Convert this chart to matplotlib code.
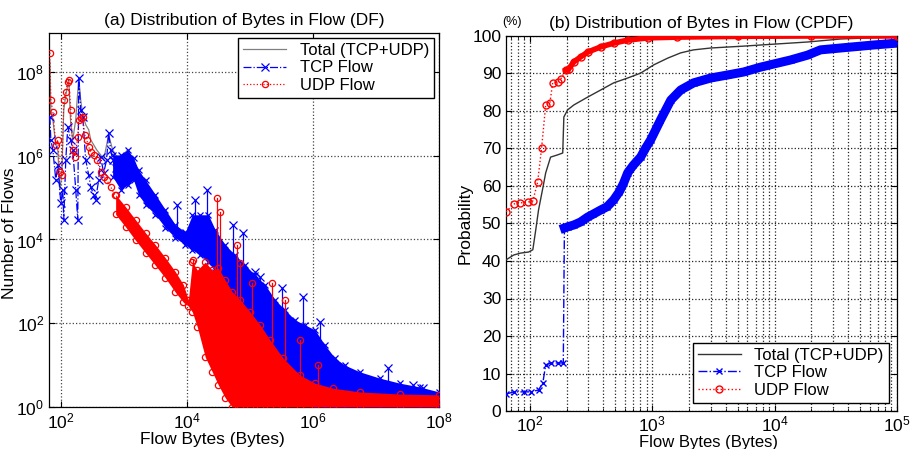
import numpy as np
import matplotlib
matplotlib.use("Agg")
import matplotlib.pyplot as plt
from matplotlib.ticker import LogLocator, NullLocator, MultipleLocator

plt.rcParams['font.family'] = ['Liberation Sans', 'DejaVu Sans']
plt.rcParams['font.size'] = 12

# ---- (a) DF panel, values read as log10 exponents (bytes, number of flows) ----
total_df_x = [1.826, 1.842, 1.874, 1.921, 1.953, 1.984, 2.016, 2.047, 2.079, 2.111,
              2.126, 2.158, 2.190, 2.237, 2.285, 2.316, 2.348, 2.395, 2.443, 2.474,
              2.522, 2.569, 2.632, 2.680, 2.759, 2.822, 2.917, 3.059, 3.186, 3.344]
total_df_y = [8.24, 7.10, 6.86, 6.26, 6.14, 5.19, 5.54, 7.10, 7.44, 7.69,
              7.81, 6.74, 6.38, 6.86, 7.86, 7.33, 6.98, 6.74, 6.62, 6.38,
              6.26, 6.14, 6.02, 5.90, 6.50, 6.14, 5.90, 6.14, 5.78, 5.19]

tcp_df_x = [1.826, 1.842, 1.874, 1.921, 1.953, 2.000, 2.032, 2.047, 2.079, 2.111,
            2.158, 2.190, 2.237, 2.269, 2.285, 2.316, 2.348, 2.395, 2.443, 2.474,
            2.522, 2.553, 2.601, 2.632, 2.680, 2.727, 2.759, 2.791, 2.822, 2.870]
tcp_df_y = [6.93, 6.38, 6.14, 5.42, 5.78, 4.87, 5.19, 4.47, 5.90, 6.69,
            6.38, 6.14, 5.19, 4.47, 7.86, 7.10, 6.93, 5.90, 5.54, 5.26,
            5.07, 4.95, 5.42, 5.97, 5.59, 5.90, 6.55, 6.14, 5.90, 5.71]

tcp_band_x = [2.822, 2.949, 3.059, 3.154, 3.233, 3.344, 3.502, 3.660, 3.818, 3.976,
              4.087, 4.213, 4.340, 4.451, 4.609, 4.767, 4.925, 5.083, 5.241, 5.399,
              5.557, 5.715, 5.874, 6.032, 6.190, 6.348, 6.506, 6.743, 7.059, 7.375,
              7.692, 8.0]
tcp_band_hi = [6.02, 6.02, 6.14, 5.95, 5.66, 5.42, 5.07, 4.71, 4.35, 4.18,
               4.59, 4.59, 4.59, 4.23, 3.87, 3.63, 3.39, 3.15, 2.92, 2.56,
               2.32, 2.08, 1.96, 1.84, 1.48, 1.17, 1.00, 0.84, 0.69, 0.57,
               0.48, 0.36]
tcp_band_lo = [5.50, 5.19, 5.30, 5.42, 5.07, 4.83, 4.59, 4.28, 4.04, 3.87,
               3.75, 3.63, 3.46, 3.23, 2.92, 2.56, 2.20, 1.84, 1.48, 1.12,
               0.84, 0.53, 0.29, 0, 0, 0, 0, 0, 0, 0,
               0, 0]
tcp_spike_x = [3.850, 4.134, 4.324, 4.609, 4.735, 4.893, 5.083, 5.162, 5.510, 5.842,
               6.111, 7.186, 7.581, 7.739]
tcp_spike_base = [4.10, 3.95, 3.60, 3.00, 2.90, 2.40, 2.00, 1.80, 1.00, 0.40,
                  0.00, 0.00, 0.00, 0.00]
tcp_spike_y = [4.83, 4.95, 5.19, 3.51, 4.35, 4.16, 3.23, 3.11, 2.84, 2.63,
               2.03, 0.93, 0.53, 0.45]

udp_df_x = [1.826, 1.842, 1.874, 1.921, 1.953, 1.984, 2.016, 2.047, 2.079, 2.111,
            2.126, 2.158, 2.190, 2.221, 2.269, 2.285, 2.316, 2.348, 2.379, 2.411,
            2.443, 2.474, 2.522, 2.569, 2.632, 2.680, 2.727, 2.791, 2.854]
udp_df_y = [8.46, 7.33, 7.05, 6.26, 6.38, 5.62, 5.54, 7.33, 7.53, 7.77,
            7.81, 7.10, 6.14, 5.97, 6.45, 6.86, 6.91, 6.93, 6.50, 6.38,
            6.21, 6.09, 6.02, 5.90, 5.62, 5.50, 5.42, 5.26, 5.07]

udp_band_x = [2.870, 3.028, 3.186, 3.344, 3.502, 3.660, 3.818, 3.945, 4.024, 4.087,
              4.166, 4.292, 4.403, 4.498, 4.609, 4.719, 4.846, 5.004, 5.162, 5.320,
              5.526, 5.794, 6.032, 6.316, 6.743, 7.375, 8.0]
udp_band_hi = [5.07, 4.78, 4.47, 4.16, 3.87, 3.56, 3.23, 2.92, 2.56, 3.46,
               3.27, 3.46, 3.27, 3.32, 3.03, 2.75, 2.56, 2.27, 1.96, 1.60,
               1.17, 0.76, 0.57, 0.45, 0.36, 0.31, 0.29]
udp_band_lo = [4.60, 4.30, 3.98, 3.68, 3.38, 3.08, 2.74, 2.50, 2.41, 2.27,
               1.91, 1.19, 0.84, 0.53, 0.22, 0, 0, 0, 0, 0,
               0, 0, 0, 0, 0, 0, 0]
udp_spike_x = [4.103, 4.482, 4.530, 4.798, 4.846, 5.036, 5.352, 5.557, 5.794, 6.079]
udp_spike_base = [2.30, 2.50, 2.00, 0.00, 0.00, 0.00, 0.00, 0.00, 0.00, 0.00]
udp_spike_y = [3.51, 4.99, 4.66, 3.87, 3.44, 2.96, 2.96, 2.56, 1.60, 1.00]

df_xticks = [1e2, 1e4, 1e6, 1e8]
df_yticks = [1e0, 1e2, 1e4, 1e6, 1e8]

# ---- (b) CPDF panel (bytes, %) ----
total_cdf_x = [64, 74, 84, 98, 106, 112, 118, 128, 135, 148, 169, 186, 190, 204, 229,
               297, 380, 485, 631, 805, 1030, 1340, 1710, 2180, 3010, 5590, 7690,
               18600, 34600, 100000]
total_cdf_y = [40.3, 41.6, 42.1, 42.4, 43.0, 48.3, 53.6, 59.5, 63.5, 67.7, 68.3, 68.8,
               78.4, 80.3, 81.6, 83.7, 85.6, 87.5, 88.8, 90.1, 92.3, 94.1, 95.5, 96.3,
               96.8, 97.3, 97.6, 98.4, 99.2, 99.8]

tcp_cdf_x = [64, 74, 89, 102, 118, 128, 135, 148, 169, 188, 192, 204, 229, 260, 297,
             330, 380, 430, 485, 540, 585, 631, 700, 805, 880, 973, 1170, 1420, 1710,
             2180, 3010, 4130, 5590, 7690, 13500, 18600, 23700, 34600, 64300, 100000]
tcp_cdf_y = [4.5, 5.1, 5.1, 5.1, 5.6, 7.5, 12.3, 12.8, 12.8, 12.8, 48.8, 49.1, 49.6,
             50.4, 51.7, 52.5, 53.6, 54.5, 56.3, 58.5, 60.8, 63.5, 65.5, 67.7, 70.0,
             72.3, 77.6, 82.9, 85.6, 87.5, 88.8, 89.6, 90.4, 91.7, 93.6, 94.9, 96.3,
             96.8, 97.6, 98.1]

udp_cdf_x = [64, 74, 84, 96, 106, 116, 125, 135, 146, 154, 169, 179, 197, 208, 229,
             260, 297, 380, 485, 631, 920, 1610, 5000, 20000, 100000]
udp_cdf_y = [53.1, 55.2, 55.5, 55.7, 56.0, 61.0, 70.1, 81.6, 82.1, 87.5, 87.7, 88.5,
             90.9, 91.2, 93.1, 94.4, 95.7, 97.1, 98.1, 98.9, 99.5, 99.7, 99.9, 100.0,
             100.0]

cdf_xticks = [1e2, 1e3, 1e4, 1e5]

BLUE = '#0000ff'
RED = '#ff0000'


def p10(a):
    return np.power(10.0, np.asarray(a, dtype=float))


fig = plt.figure(figsize=(9.11, 4.49), dpi=100)
ax1 = fig.add_axes([49 / 911, 1 - 407 / 449, 390 / 911, 374 / 449])
ax2 = fig.add_axes([506 / 911, 1 - 411 / 449, 391 / 911, 375 / 449])

# ---------------- panel (a) ----------------
ax1.plot(p10(total_df_x), p10(total_df_y), color='#808080', lw=0.9,
         label='Total (TCP+UDP)', zorder=2)

# TCP
ax1.fill_between(p10(tcp_band_x), p10(tcp_band_lo), p10(tcp_band_hi),
                 color=BLUE, lw=0, zorder=3)
for yy in (tcp_band_hi, tcp_band_lo):
    ax1.plot(p10(tcp_band_x), p10(yy), ls='none', marker='x', ms=5,
             mew=0.9, color=BLUE, zorder=3)
for sx, sb, sy in zip(tcp_spike_x, tcp_spike_base, tcp_spike_y):
    ax1.plot(p10([sx, sx]), p10([sb, sy]), color=BLUE, lw=0.9, zorder=3)
ax1.plot(p10(tcp_spike_x), p10(tcp_spike_y), ls='none', marker='x', ms=6,
         mew=0.9, color=BLUE, zorder=3)
ax1.plot(p10(tcp_df_x), p10(tcp_df_y), color=BLUE, ls='-.', lw=0.9,
         marker='x', ms=6, mew=0.9, label='TCP Flow', zorder=3)

# UDP
ax1.fill_between(p10(udp_band_x), p10(udp_band_lo), p10(udp_band_hi),
                 color=RED, lw=0, zorder=4)
for yy in (udp_band_hi, udp_band_lo):
    ax1.plot(p10(udp_band_x), p10(yy), ls='none', marker='o', ms=4.5,
             mfc='none', mew=0.9, color=RED, zorder=4)
for sx, sb, sy in zip(udp_spike_x, udp_spike_base, udp_spike_y):
    ax1.plot(p10([sx, sx]), p10([sb, sy]), color=RED, lw=0.9, zorder=4)
ax1.plot(p10(udp_spike_x), p10(udp_spike_y), ls='none', marker='o', ms=4.5,
         mfc='none', mew=0.9, color=RED, zorder=4)
ax1.plot(p10(udp_df_x), p10(udp_df_y), color=RED, ls=':', lw=0.9,
         marker='o', ms=4.5, mfc='none', mew=0.9, label='UDP Flow', zorder=4)

ax1.set_xscale('log')
ax1.set_yscale('log')
ax1.set_xlim(65, 1e8)
ax1.set_ylim(1, 10 ** 8.93)
ax1.set_xticks(df_xticks)
ax1.set_yticks(df_yticks)
ax1.xaxis.set_minor_locator(NullLocator())
ax1.yaxis.set_minor_locator(NullLocator())
ax1.grid(True, which='major', ls=':', color='#444444', lw=0.9)
ax1.set_axisbelow(True)
ax1.set_title('(a) Distribution of Bytes in Flow (DF)', fontsize=12.5, pad=6)
ax1.set_xlabel('Flow Bytes (Bytes)', fontsize=12.5)
ax1.xaxis.set_label_coords(0.42, -0.068)
ax1.set_ylabel('Number of Flows', fontsize=12.5)
ax1.yaxis.set_label_coords(-0.083, 0.465)
ax1.legend(loc='upper right', fancybox=False, edgecolor='black', framealpha=1,
           fontsize=12, borderaxespad=0.3, handlelength=2.6, labelspacing=0.15,
           borderpad=0.3)

# ---------------- panel (b) ----------------
tx = np.array(tcp_cdf_x)
ty = np.array(tcp_cdf_y)
ux = np.array(udp_cdf_x)
uy = np.array(udp_cdf_y)

ax2.plot(total_cdf_x, total_cdf_y, color='#333333', lw=1.0,
         label='Total (TCP+UDP)', zorder=3)
ax2.plot(tx[tx >= 192], ty[tx >= 192], color=BLUE, lw=6.5, zorder=3)
ax2.plot(tx, ty, color=BLUE, ls='-.', lw=1.0, marker='x', ms=5, mew=1.0,
         label='TCP Flow', zorder=3)
ax2.plot(ux[ux >= 197], uy[ux >= 197], color=RED, lw=4, zorder=4)
ax2.plot(ux, uy, color=RED, ls=':', lw=1.0, marker='o', ms=5, mfc='none',
         mew=1.0, label='UDP Flow', zorder=4)

ax2.set_xscale('log')
ax2.set_xlim(64, 1e5)
ax2.set_ylim(0, 100)
ax2.yaxis.set_major_locator(MultipleLocator(10))
ax2.set_xticks(cdf_xticks)
ax2.xaxis.set_minor_locator(LogLocator(base=10, subs=np.arange(2, 10)))
ax2.grid(True, which='both', axis='x', ls=':', color='#222222', lw=0.9)
ax2.grid(True, which='major', axis='y', ls=':', color='#222222', lw=0.9)
ax2.set_axisbelow(True)
ax2.set_title('(b) Distribution of Bytes in Flow (CPDF)', fontsize=12.5, pad=6)
ax2.set_xlabel('Flow Bytes (Bytes)', fontsize=12)
ax2.xaxis.set_label_coords(0.517, -0.064)
ax2.set_ylabel('Probability', fontsize=12.5, labelpad=0)
ax2.legend(loc='lower right', fancybox=False, edgecolor='black', framealpha=1,
           fontsize=12, borderaxespad=0.5, handlelength=2.6, labelspacing=0.15,
           borderpad=0.3)
fig.text(512 / 911, 1 - 22 / 449, '(%)', fontsize=9, ha='center', va='center')

for ax in (ax1, ax2):
    ax.tick_params(which='both', direction='in', top=True, right=True,
                   labelsize=12.5)
    ax.tick_params(which='major', length=4)
    ax.tick_params(which='minor', length=2)
    for s in ax.spines.values():
        s.set_linewidth(0.9)
ax2.tick_params(axis='x', which='major', pad=2.5)

fig.savefig('out.png', dpi=100)
